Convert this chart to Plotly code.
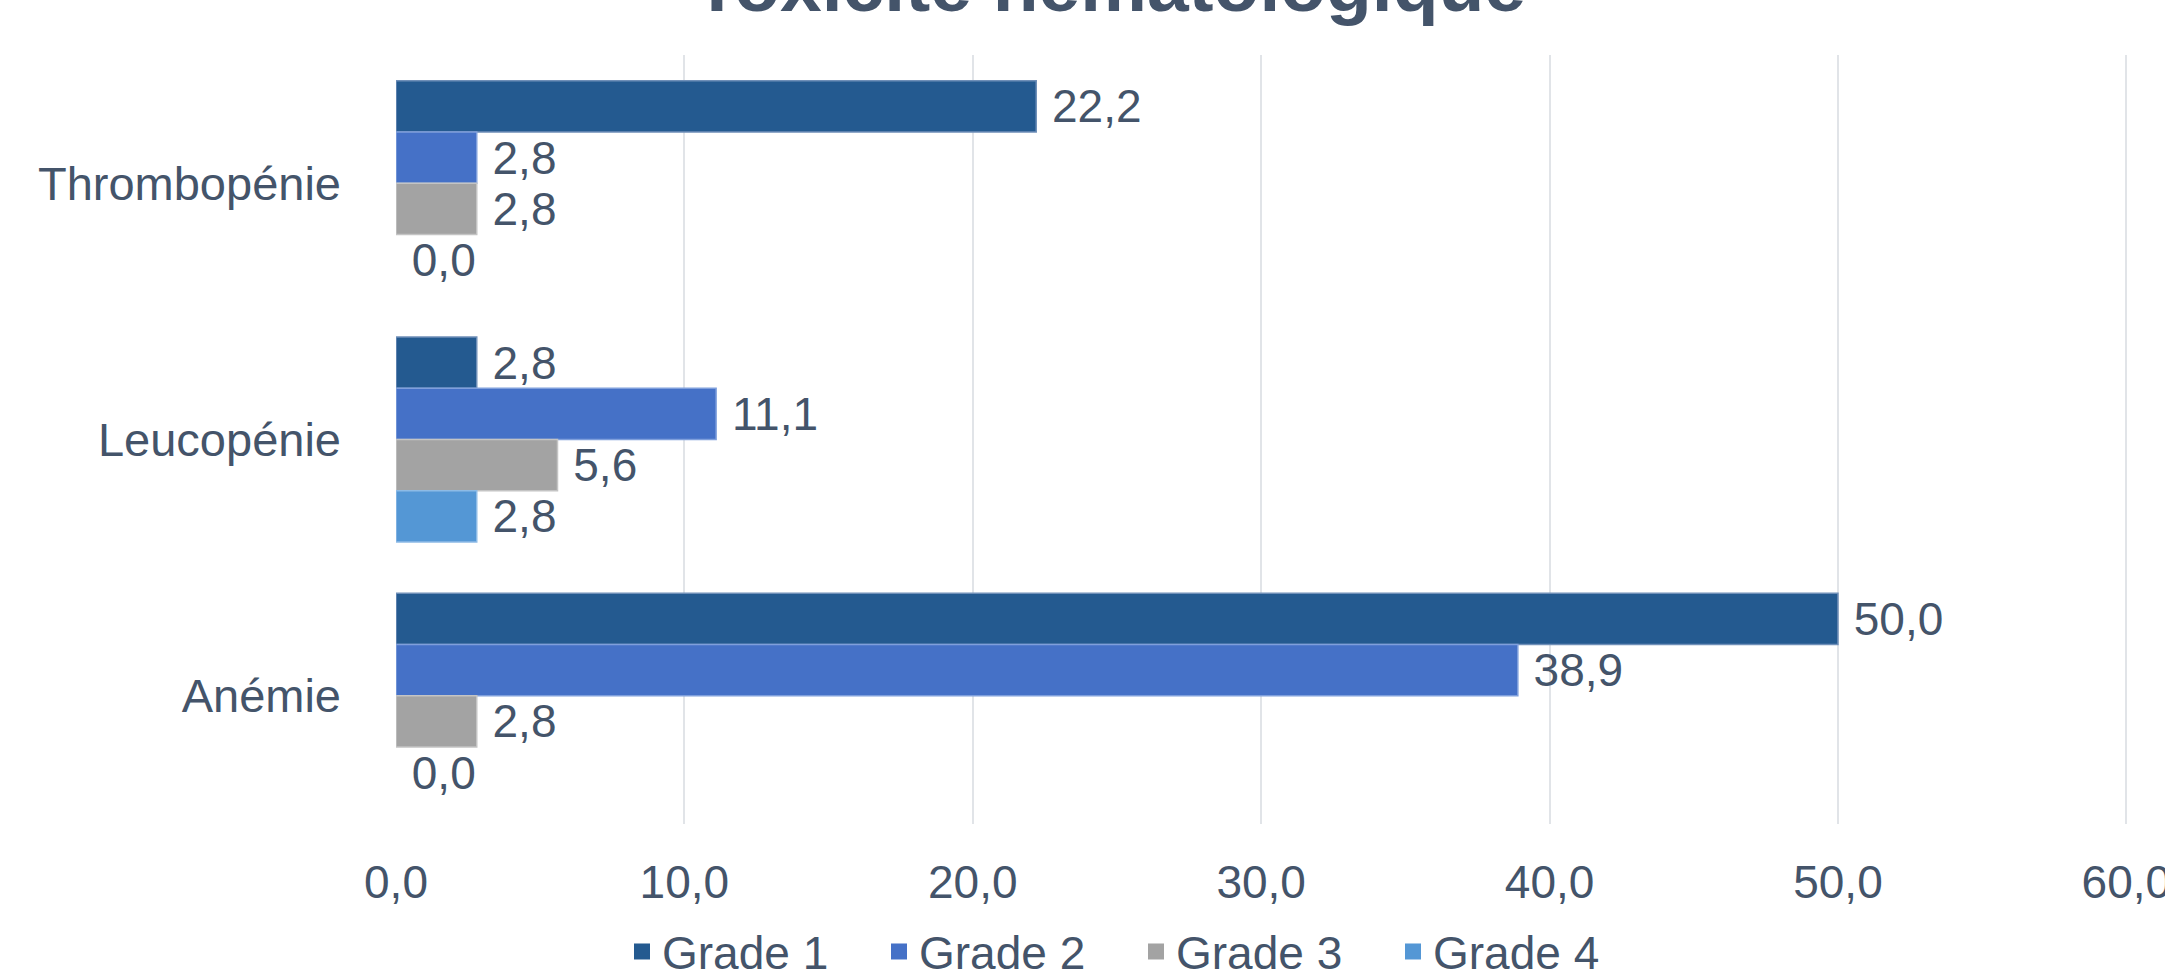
import plotly.graph_objects as go

# Hematological toxicity by grade (% of patients)
categories = ["Thrombopénie", "Leucopénie", "Anémie"]
grade_names = ["Grade 1", "Grade 2", "Grade 3", "Grade 4"]
grade1 = [22.2, 2.8, 50.0]
grade2 = [2.8, 11.1, 38.9]
grade3 = [2.8, 5.6, 2.8]
grade4 = [0.0, 2.8, 0.0]
x_ticks = [0, 10, 20, 30, 40, 50, 60]

series = [grade1, grade2, grade3, grade4]
colors = ["#245a90", "#4571c7", "#a3a3a3", "#5497d5"]
edges = ["#6f8fb8", "#7f9fdc", "#c4c4c4", "#8dbbe6"]

TEXT = "#44546a"
FONT = "Liberation Sans, Arial, sans-serif"
W, H = 2165, 979
L, R, T, B = 396, 30, 55, 155

fig = go.Figure()
for name, vals, col, edge in zip(grade_names, series, colors, edges):
    fig.add_trace(go.Bar(
        y=categories, x=vals, name=name, orientation="h",
        marker=dict(color=col,
                    line=dict(color=edge, width=[1.5 if v > 0 else 0 for v in vals])),
        texttemplate="\u00a0%{x:.1f}", textposition="outside",
        textfont=dict(family=FONT, size=46, color=TEXT),
        constraintext="none", cliponaxis=False, showlegend=False,
    ))
    # legend entry with a square swatch
    fig.add_trace(go.Scatter(
        x=[None], y=[None], mode="markers", name=name,
        marker=dict(symbol="square", size=24, color=col),
    ))

fig.update_layout(
    width=W, height=H,
    margin=dict(l=L, r=R, t=T, b=B, autoexpand=False),
    paper_bgcolor="white", plot_bgcolor="white",
    barmode="group", bargap=0.2, bargroupgap=0,
    separators=", ",
    font=dict(family=FONT, color=TEXT, size=46),
    xaxis=dict(
        range=[0, 60.3], tickvals=x_ticks, tickformat=".1f",
        showgrid=True, gridcolor="#e1e4e8", gridwidth=2,
        zeroline=False, showline=False, ticks="",
        tickfont=dict(family=FONT, size=46, color=TEXT),
        ticklabelstandoff=27, ticklabeloverflow="allow", automargin=False,
    ),
    yaxis=dict(
        autorange="reversed", showgrid=False, zeroline=False,
        showline=False, ticks="", automargin=False,
        tickfont=dict(family=FONT, size=47, color=TEXT),
        ticklabelstandoff=54,
    ),
    legend=dict(
        orientation="h", xref="container", yref="container",
        x=0.2873, y=0.028, xanchor="left", yanchor="middle",
        font=dict(family=FONT, size=46, color=TEXT),
        entrywidth=212, entrywidthmode="pixels",
        bgcolor="rgba(0,0,0,0)",
    ),
    annotations=[dict(
        text="<b>Toxicité hématologique</b>",
        xref="paper", yref="paper", x=(1110 - L) / (W - L - R), y=1 + 26 / (H - T - B),
        xanchor="center", yanchor="bottom", showarrow=False,
        font=dict(family=FONT, size=75, color=TEXT),
    )],
)

fig.write_html("out.html")
